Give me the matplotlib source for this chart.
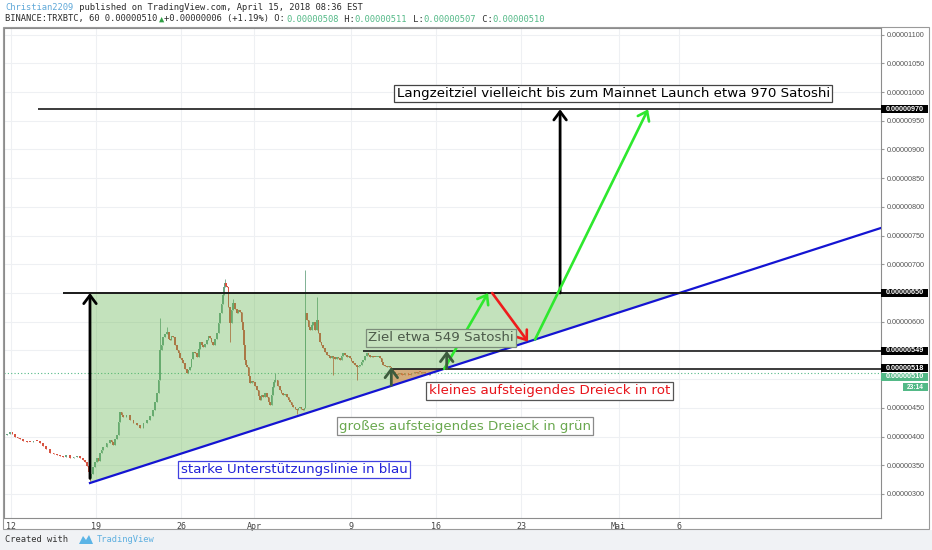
import matplotlib
matplotlib.use("Agg")
import matplotlib.pyplot as plt
import matplotlib.transforms as mtrans
from matplotlib.patches import Polygon, Rectangle

# ---------------- data (days since 12 March 2018, price in satoshi) ----------------
times = [-0.58, -0.33, -0.08, 0.12, 0.33, 0.55, 0.74, 1.0, 1.3, 1.56, 1.85, 2.14, 2.4, 2.63, 2.9,
         3.21, 3.5, 3.79, 4.05, 4.28, 4.55, 4.86, 5.15, 5.43, 5.7, 5.93, 6.1, 6.26, 6.4, 6.5,
         6.62, 6.75, 6.9, 7.08, 7.2, 7.33, 7.45, 7.57, 7.86, 8.15, 8.28, 8.40, 8.55, 8.72, 8.85,
         8.97, 9.1, 9.22, 9.5, 9.79, 10.08, 10.37, 10.62, 10.9, 11.19, 11.45, 11.69, 11.85, 12.02,
         12.14, 12.26, 12.4, 12.51, 12.68, 12.84, 13.0, 13.09, 13.2, 13.33, 13.5, 13.66, 13.8,
         13.91, 14.05, 14.16, 14.3, 14.49, 14.6, 14.73, 14.85, 14.98, 15.15, 15.31, 15.45, 15.56,
         15.7, 15.80, 15.95, 16.13, 16.25, 16.38, 16.5, 16.63, 16.8, 16.95, 17.08, 17.20, 17.33,
         17.45, 17.55, 17.61, 17.7, 17.78, 17.9, 18.02, 18.15, 18.27, 18.45, 18.60, 18.72, 18.85,
         18.97, 19.09, 19.18, 19.26, 19.35, 19.42, 19.55, 19.67, 19.8, 19.92, 20.1, 20.25, 20.37,
         20.49, 20.6, 20.74, 20.9, 21.07, 21.2, 21.32, 21.45, 21.56, 21.65, 21.73, 21.95, 22.14,
         22.25, 22.39, 22.55, 22.72, 22.85, 22.96, 23.1, 23.21, 23.4, 23.54, 23.65, 23.79, 23.9,
         24.03, 24.15, 24.22, 24.36, 24.5, 24.61, 24.75, 24.86, 25.0, 25.18, 25.3, 25.43, 25.55,
         25.68, 25.85, 26.01, 26.15, 26.26, 26.4, 26.50, 26.65, 26.83, 26.95, 27.08, 27.2, 27.33,
         27.5, 27.65, 27.78, 27.90, 28.02, 28.15, 28.3, 28.48, 28.6, 28.72, 28.85, 28.97, 29.15,
         29.30, 29.42, 29.55, 29.67, 29.79, 29.95, 30.12, 30.25, 30.37, 30.5, 30.62, 30.8, 30.95,
         31.07, 31.19, 31.3, 31.44, 31.6, 31.77, 31.9, 32.02, 32.15, 32.26, 32.4, 32.59, 32.7,
         32.84, 32.95, 33.09, 33.25, 33.42, 33.55, 33.66, 33.8, 33.91, 34.05, 34.24, 34.37, 34.49]
closes = [403, 405, 408, 404, 399, 398, 396, 393, 391, 390, 393, 392, 388, 383, 378,
          371, 370, 368, 366, 364, 367, 363, 364, 366, 362, 359, 355, 349, 338, 328,
          335, 347, 355, 363, 358, 371, 376, 382, 388, 394, 390, 385, 395, 403, 425,
          443, 438, 434, 437, 429, 424, 420, 415, 424, 429, 436, 446, 460, 476,
          498, 551, 560, 573, 578, 582, 570, 568, 575, 573, 560, 551, 545,
          537, 533, 528, 518, 511, 515, 521, 535, 547, 545, 539, 552, 565,
          560, 556, 562, 568, 575, 572, 565, 559, 570, 580, 598, 615, 630,
          647, 660, 667, 663, 660, 625, 598, 620, 633, 622, 615, 620, 617,
          600, 586, 560, 533, 525, 521, 505, 493, 497, 495, 488, 481, 470,
          464, 472, 469, 475, 469, 460, 455, 472, 486, 495, 498, 488, 481,
          476, 472, 474, 469, 463, 460, 455, 451, 448, 446, 449, 451, 448,
          446, 450, 615, 603, 590, 586, 595, 599, 585, 603, 580, 565, 560,
          554, 548, 542, 540, 537, 541, 539, 535, 539, 536, 533, 540, 545,
          542, 539, 541, 537, 532, 528, 524, 521, 523, 525, 530, 533, 540,
          545, 542, 539, 541, 539, 538, 539, 540, 537, 530, 525, 522, 521,
          523, 521, 515, 512, 509, 507, 509, 511, 508, 507, 510, 511, 508,
          507, 510, 511, 512, 511, 513, 512, 511, 512, 511, 510, 508, 510]
wick_high = {12.26: 606, 17.61: 674, 21.73: 511, 24.22: 690, 25.18: 643, 12.84: 590, 18.27: 640}
wick_low = {6.5: 322, 18.02: 565, 26.50: 507, 28.48: 498, 23.54: 440, 19.09: 580}

price_ticks = list(range(300, 1101, 50))
hidden_price_labels = [500, 650]   # covered by the price boxes in the original
date_ticks = [0, 7, 14, 20, 28, 35, 42, 50, 55]
date_labels = ["12", "19", "26", "Apr", "9", "16", "23", "Mai", "6"]

# levels / annotation anchors (satoshi)
level_top = 650
level_target = 970
level_small = 549
level_small_base = 518
last_price = 510
support_start = (6.5, 319)
support_mid = (55.0, 650)

W, H = 932, 550
fig = plt.figure(figsize=(W / 100, H / 100), dpi=100)
fig.patch.set_facecolor("white")
fig.add_artist(Rectangle((0, 0), 1, 20 / H, transform=fig.transFigure, fc="#f0f2f5", ec="none", zorder=0))

ax = fig.add_axes([4 / W, 32 / H, 877 / W, 490 / H])
XL = (-0.576, 71.6)
YL = (258.05, 1111.6)
ax.set_xlim(*XL)
ax.set_ylim(*YL)
ax.set_axisbelow(True)
ax.grid(True, color="#eef0f3", lw=0.8)
for s in ax.spines.values():
    s.set_color("#8c8c8c")
    s.set_linewidth(0.8)

ax.yaxis.tick_right()
ax.set_yticks(price_ticks)
ax.set_yticklabels(["" if v in hidden_price_labels else "0.%08d" % v for v in price_ticks],
                   fontsize=5.2, color="#555555", family="Liberation Sans")
ax.tick_params(axis="y", length=2, color="#999999", pad=2)
ax.set_xticks(date_ticks)
ax.set_xticklabels(date_labels, fontsize=6, color="#444444", family="DejaVu Sans Mono")
ax.tick_params(axis="x", length=0, pad=3)

# candles
opens = [closes[0]] + closes[:-1]
bots, hts, cols, his, los = [], [], [], [], []
for t, o, c in zip(times, opens, closes):
    bots.append(min(o, c))
    hts.append(max(abs(c - o), 1.5))
    cols.append("#6ba583" if c >= o else "#d75442")
    his.append(wick_high.get(t, max(o, c)))
    los.append(wick_low.get(t, min(o, c)))
ax.vlines(times, los, his, colors=cols, lw=0.6, zorder=2)
ax.bar(times, hts, bottom=bots, width=0.13, color=cols, linewidth=0, zorder=2)

# support line
slope = (support_mid[1] - support_start[1]) / (support_mid[0] - support_start[0])
def sup(d):
    return support_start[1] + slope * (d - support_start[0])

# big triangle
ax.add_patch(Polygon([support_start, (support_start[0], level_top), support_mid],
                     closed=True, fc=(0.39, 0.71, 0.31, 0.38), ec="none", zorder=3))
# small triangle
d_small_left = 31.36
d_small_right = support_start[0] + (level_small_base - support_start[1]) / slope
ax.add_patch(Polygon([(d_small_left, level_small_base), (d_small_left, sup(d_small_left)),
                      (d_small_right, level_small_base)],
                     closed=True, fc=(0.90, 0.47, 0.24, 0.5), ec="none", zorder=4))

ax.plot([support_start[0], XL[1]], [support_start[1], sup(XL[1])], color="#1414d2", lw=1.6, zorder=5)
ax.hlines(level_top, 4.28, XL[1], color="#1a1a1a", lw=1.4, zorder=5)
ax.hlines(level_target, 2.22, XL[1], color="#1a1a1a", lw=1.2, zorder=5)
ax.hlines(level_small, 28.97, XL[1], color="#1a1a1a", lw=1.2, zorder=5)
ax.hlines(level_small_base, d_small_left, XL[1], color="#1a1a1a", lw=1.2, zorder=5)
ax.axhline(last_price, color="#53b987", ls=(0, (1, 2)), lw=0.8, zorder=1)

def arrow(tail, tip, color, lw=2.0):
    ax.annotate("", xy=tip, xytext=tail, zorder=6,
                arrowprops=dict(arrowstyle="->,head_length=0.6,head_width=0.45", color=color, lw=lw,
                                mutation_scale=10, shrinkA=0, shrinkB=0))

arrow((6.5, 327), (6.5, level_top), "black", lw=2.0)
arrow((45.19, level_top), (45.19, level_target), "black", lw=2.0)
arrow((d_small_right, sup(d_small_right)), (39.26, level_top), "#2ee82e", lw=1.9)
arrow((39.6, level_top), (42.55, sup(42.55)), "#ee1c1c", lw=1.9)
arrow((43.13, sup(43.13)), (52.43, level_target), "#2ee82e", lw=1.9)
arrow((31.3, 489), (31.3, 521), "#3d5c3d", lw=2.0)
arrow((d_small_right + 0.2, level_small_base), (d_small_right + 0.2, level_small), "#3d5c3d", lw=2.0)

def label(x, y, s, color, ec, fc="white"):
    ax.text(x, y, s, ha="center", va="center", fontsize=9.6, color=color, zorder=7,
            family="DejaVu Sans",
            bbox=dict(boxstyle="square,pad=0.18", fc=fc, ec=ec, lw=0.9))

label(49.55, 997.5, "Langzeitziel vielleicht bis zum Mainnet Launch etwa 970 Satoshi", "black", "#444444")
label(35.39, 571.6, "Ziel etwa 549 Satoshi", "#4c5a4a", "#7d8d7b", fc=(0.78, 0.89, 0.75))
label(44.32, 479.3, "kleines aufsteigendes Dreieck in rot", "#e8141b", "#555555")
label(37.37, 418.3, "großes aufsteigendes Dreieck in grün", "#6aa84f", "#8a8a8a")
label(23.29, 342.5, "starke Unterstützungslinie in blau", "#2222d8", "#4040e0")

# price boxes on the right axis
bt = mtrans.blended_transform_factory(ax.transAxes, ax.transData)
def pbox(p, text, fc, tc="white", x0=0.0, w=47, fs=5.2):
    hh = 4.0 * 1.742
    ax.add_patch(Rectangle((1.0 + x0 / 877, p - hh), w / 877, 2 * hh, transform=bt,
                           fc=fc, ec="none", clip_on=False, zorder=8))
    ax.text(1.0 + (x0 + w / 2) / 877, p, text, transform=bt, ha="center", va="center",
            fontsize=fs, color=tc, fontweight="bold", family="Liberation Sans",
            clip_on=False, zorder=9)

pbox(level_target, "0.00000970", "black")
pbox(level_top, "0.00000650", "black")
pbox(level_small, "0.00000549", "black")
pbox(518.5, "0.00000518", "black")
pbox(504.0, "0.00000510", "#53b987")
pbox(486.0, "23:14", "#53b987", x0=22, w=25, fs=4.8)

# header
mono = ["DejaVu Sans Mono", "DejaVu Sans"]
cw = 5.3
def seg_line(y, segs, fs=6.35):
    n = 0
    for s, c in segs:
        fig.text((5 + n * cw) / W, 1 - y / H, s, color=c, fontsize=fs, family=mono, va="center", ha="left")
        n += len(s)

dark = "#2a2a2a"
grn = "#53b987"
seg_line(8, [("Christian2209", "#5fa8d8"), (" published on TradingView.com, April 15, 2018 08:36 EST", dark)])
seg_line(19, [("BINANCE:TRXBTC, 60 0.00000510", dark), ("▲", "#2f9e44"), ("+0.00000006 (+1.19%) O:", dark),
              ("0.00000508", grn), (" H:", dark), ("0.00000511", grn), (" L:", dark),
              ("0.00000507", grn), (" C:", dark), ("0.00000510", grn)])

# footer
fig.text(5 / W, 1 - 540 / H, "Created with", color="#333333", fontsize=6.35, family=mono, va="center")
fig.add_artist(Polygon([(79 / W, 1 - 544 / H), (83 / W, 1 - 536 / H), (86 / W, 1 - 540 / H),
                        (89 / W, 1 - 535 / H), (93 / W, 1 - 544 / H)], closed=True,
                       transform=fig.transFigure, fc="#5bb4e6", ec="none"))
fig.text(97 / W, 1 - 540 / H, "TradingView", color="#5fb0e0", fontsize=6.35, family=mono, va="center")

# outer border
fig.add_artist(Rectangle((3 / W, 1 - 529 / H), 926 / W, 502 / H, transform=fig.transFigure,
                         fc="none", ec="#9a9a9a", lw=0.8))

fig.savefig("out.png", dpi=100)
